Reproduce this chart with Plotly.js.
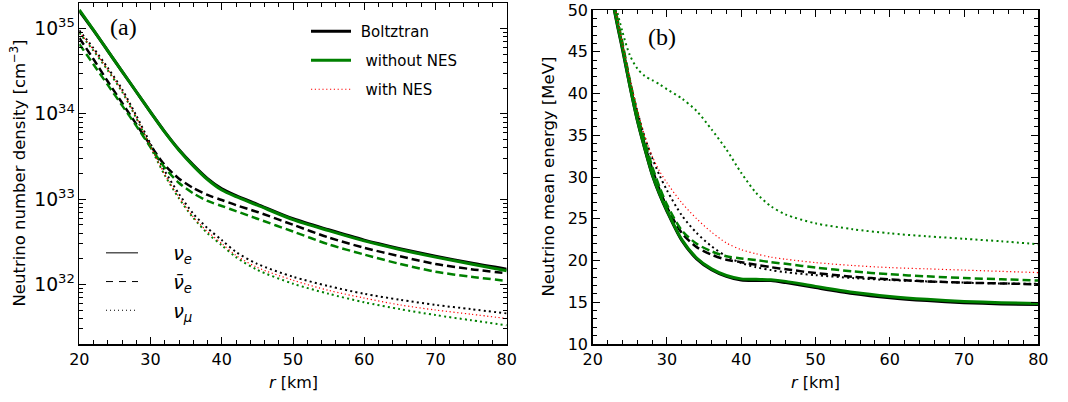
<!DOCTYPE html>
<html>
<head>
<meta charset="utf-8">
<script src="https://cdn.plot.ly/plotly-3.0.1.min.js"></script>
<style>html,body{margin:0;padding:0;background:#fff;}#chart{width:1068px;height:402px;}</style>
</head>
<body>
<div id="chart"></div>
<script>
// ---------- Data: panel (a) number density [cm^-3] vs r [km] ----------
const rA = [20,22,24,26,28,30,32,34,36,38,40,42,45,50,55,60,65,70,75,80];
const boltzNue  = [1.62e35,9.55e34,5.50e34,3.16e34,1.82e34,1.05e34,6.17e33,3.80e33,2.51e33,1.74e33,1.32e33,1.10e33,8.71e32,5.89e32,4.37e32,3.31e32,2.63e32,2.14e32,1.78e32,1.51e32];
const boltzNueb = [7.76e34,4.37e34,2.40e34,1.35e34,7.59e33,4.27e33,2.51e33,1.74e33,1.35e33,1.12e33,9.77e32,8.51e32,7.08e32,5.01e32,3.55e32,2.69e32,2.14e32,1.74e32,1.51e32,1.35e32];
const boltzNumu = [9.55e34,5.89e34,3.47e34,1.95e34,9.55e33,4.47e33,2.14e33,1.15e33,6.76e32,4.57e32,3.31e32,2.40e32,1.74e32,1.23e32,9.55e31,7.76e31,6.61e31,5.75e31,5.13e31,4.57e31];
const noNesNue  = [1.66e35,9.60e34,5.50e34,3.16e34,1.82e34,1.05e34,6.10e33,3.75e33,2.46e33,1.70e33,1.28e33,1.07e33,8.50e32,5.75e32,4.27e32,3.24e32,2.57e32,2.09e32,1.74e32,1.45e32];
const noNesNueb = [6.61e34,3.80e34,2.19e34,1.26e34,7.24e33,4.07e33,2.34e33,1.55e33,1.17e33,9.55e32,8.32e32,7.24e32,5.89e32,4.17e32,2.95e32,2.24e32,1.74e32,1.41e32,1.23e32,1.10e32];
const noNesNumu = [8.91e34,5.50e34,3.24e34,1.82e34,8.91e33,4.07e33,1.91e33,1.02e33,6.03e32,3.98e32,2.88e32,2.09e32,1.48e32,1.02e32,7.76e31,6.17e31,5.13e31,4.37e31,3.80e31,3.31e31];
const nesNumu   = [9.12e34,5.62e34,3.31e34,1.86e34,9.12e33,4.17e33,1.95e33,1.05e33,6.17e32,4.17e32,3.02e32,2.19e32,1.58e32,1.12e32,8.51e31,6.92e31,5.75e31,5.01e31,4.47e31,3.98e31];

// ---------- Data: panel (b) mean energy [MeV] vs r [km] ----------
const rB = [22,23,24,25,26,27,28,29,30,32,34,36,38,40,42,44,46,50,55,60,65,70,75,80];
const eBoltzNue  = [54.5,49.6,45.3,40.9,36.8,33.4,30.3,27.9,25.9,22.4,20.2,18.9,18.1,17.65,17.6,17.6,17.35,16.75,16.05,15.55,15.2,14.95,14.8,14.72];
const eBoltzNueb = [54.5,49.8,45.6,41.2,37.3,33.9,31.0,28.5,26.4,23.3,21.6,20.7,20.1,19.8,19.5,19.2,18.95,18.5,18.05,17.75,17.5,17.35,17.25,17.15];
const eBoltzNumu = [56.0,50.3,45.9,41.6,37.9,34.8,32.3,30.2,28.4,25.4,23.3,21.7,20.5,19.7,19.2,18.85,18.6,18.25,17.9,17.65,17.5,17.35,17.25,17.2];
const eNoNesNue  = [54.5,49.7,45.5,41.0,36.9,33.5,30.4,28.0,26.0,22.5,20.3,19.0,18.2,17.8,17.75,17.7,17.5,16.9,16.2,15.7,15.35,15.1,14.95,14.85];
const eNoNesNueb = [55.0,50.3,46.1,41.6,37.7,34.3,31.3,28.8,26.7,23.6,22.0,21.1,20.5,20.25,20.05,19.8,19.6,19.15,18.7,18.35,18.1,17.9,17.75,17.6];
const eNoNesNumu = [57.0,51.0,47.4,44.6,43.0,42.1,41.6,41.1,40.5,39.4,37.9,35.7,33.3,30.5,28.1,26.5,25.5,24.45,23.75,23.25,22.9,22.6,22.3,21.95];
const eNesNumu   = [56.0,50.4,46.0,41.8,38.1,34.9,32.5,30.7,29.3,26.9,25.0,23.4,22.1,21.3,20.8,20.4,20.15,19.75,19.4,19.15,19.0,18.85,18.7,18.55];

// ---------- Text ----------
const modelNames = ['Boltztran','without NES','with NES'];
const speciesNames = ['<i>ν</i><sub><i>e</i></sub>','<i>ν̄</i><sub><i>e</i></sub>','<i>ν</i><sub><i>μ</i></sub>'];

// ---------- Styles ----------
const BLACK = '#000000', GREEN = '#008000', RED = '#ff0000';
const W = 1068, H = 402;
const fx = p => p / W;
const fy = p => 1 - p / H;
const SOLID = 'solid', DASH = '8px,4px', DOT = '2px,3.2px', RDOT = '1.2px,2.6px';
const NB = n => '\u00a0'.repeat(n);

function tr(x, y, color, width, dash, xa, ya, extra) {
  return Object.assign({
    type: 'scatter', mode: 'lines', x: x, y: y, xaxis: xa, yaxis: ya,
    line: {color: color, width: width, dash: dash, shape: 'spline', smoothing: 0.8},
    showlegend: false, hoverinfo: 'skip', cliponaxis: true
  }, extra || {});
}

const traces = [
  // panel (a)
  tr(rA, boltzNue, BLACK, 3, SOLID, 'x', 'y', {name: NB(1) + modelNames[0], showlegend: true, legend: 'legend', legendgroup: 'g1'}),
  tr(rA, boltzNueb, BLACK, 2.5, DASH, 'x', 'y'),
  tr(rA, boltzNumu, BLACK, 2, DOT, 'x', 'y'),
  tr(rA, noNesNue, GREEN, 3, SOLID, 'x', 'y', {name: NB(2) + modelNames[1], showlegend: true, legend: 'legend', legendgroup: 'g2'}),
  tr(rA, noNesNueb, GREEN, 2.5, DASH, 'x', 'y'),
  tr(rA, noNesNumu, GREEN, 2, DOT, 'x', 'y'),
  tr(rA, nesNumu, RED, 1.2, RDOT, 'x', 'y', {name: NB(2) + modelNames[2], showlegend: true, legend: 'legend', legendgroup: 'g3'}),
  // panel (b)
  tr(rB, eBoltzNue, BLACK, 3, SOLID, 'x2', 'y2'),
  tr(rB, eBoltzNueb, BLACK, 2.5, DASH, 'x2', 'y2'),
  tr(rB, eBoltzNumu, BLACK, 2, DOT, 'x2', 'y2'),
  tr(rB, eNoNesNue, GREEN, 3, SOLID, 'x2', 'y2'),
  tr(rB, eNoNesNueb, GREEN, 2.5, DASH, 'x2', 'y2'),
  tr(rB, eNoNesNumu, GREEN, 2, DOT, 'x2', 'y2'),
  tr(rB, eNesNumu, RED, 1.2, RDOT, 'x2', 'y2'),
  // species legend (style keys only)
  {type: 'scatter', mode: 'lines', x: [null], y: [null], xaxis: 'x', yaxis: 'y', name: NB(5) + speciesNames[0], line: {color: BLACK, width: 1, dash: 'solid'}, legend: 'legend2', legendgroup: 's1', hoverinfo: 'skip'},
  {type: 'scatter', mode: 'lines', x: [null], y: [null], xaxis: 'x', yaxis: 'y', name: NB(5) + speciesNames[1], line: {color: BLACK, width: 1, dash: '7px,6px'}, legend: 'legend2', legendgroup: 's2', hoverinfo: 'skip'},
  {type: 'scatter', mode: 'lines', x: [null], y: [null], xaxis: 'x', yaxis: 'y', name: NB(5) + speciesNames[2], line: {color: BLACK, width: 1, dash: '1px,3px'}, legend: 'legend2', legendgroup: 's3', hoverinfo: 'skip'}
];

const FONT = 'DejaVu Sans, sans-serif';
const axisBase = {
  showgrid: false, zeroline: false, showline: true, linecolor: BLACK, linewidth: 1.5,
  mirror: 'ticks', ticks: 'inside', ticklen: 7, tickwidth: 1, tickcolor: BLACK,
  tickfont: {family: FONT, size: 16, color: BLACK}
};
const minorLin = d => ({ticks: 'inside', ticklen: 4, tickwidth: 1, tickcolor: BLACK, dtick: d, tick0: 0, showgrid: false});

const layout = {
  width: W, height: H,
  margin: {l: 0, r: 0, t: 0, b: 0, pad: 0},
  paper_bgcolor: '#ffffff', plot_bgcolor: '#ffffff',
  font: {family: FONT, size: 15, color: BLACK},
  showlegend: true,
  xaxis: Object.assign({}, axisBase, {
    domain: [fx(79.3), fx(506.7)], anchor: 'y', range: [20, 80], dtick: 10, tick0: 0, minor: minorLin(2)
  }),
  yaxis: Object.assign({}, axisBase, {
    domain: [fy(344), fy(3)], anchor: 'x', type: 'log',
    range: [Math.log10(2e31), Math.log10(2e35)], dtick: 1, tick0: 0, exponentformat: 'power',
    tickfont: {family: FONT, size: 15, color: BLACK},
    minor: {ticks: 'inside', ticklen: 4, tickwidth: 1, tickcolor: BLACK, dtick: 'D1', showgrid: false}
  }),
  xaxis2: Object.assign({}, axisBase, {
    domain: [fx(592.7), fx(1038.3)], anchor: 'y2', range: [20, 80], dtick: 10, tick0: 0, minor: minorLin(2)
  }),
  yaxis2: Object.assign({}, axisBase, {
    domain: [fy(344), fy(10)], anchor: 'x2', range: [10, 50], dtick: 5, tick0: 0, minor: minorLin(1)
  }),
  legend: {
    x: fx(306), y: fy(15), xanchor: 'left', yanchor: 'top',
    bgcolor: 'rgba(0,0,0,0)', borderwidth: 0, font: {family: FONT, size: 15, color: BLACK},
    traceorder: 'grouped', tracegroupgap: 6.5, itemwidth: 40, itemclick: false, itemdoubleclick: false
  },
  legend2: {
    x: fx(101), y: fy(234), xanchor: 'left', yanchor: 'top',
    bgcolor: 'rgba(0,0,0,0)', borderwidth: 0, font: {family: FONT, size: 19, color: BLACK},
    traceorder: 'grouped', tracegroupgap: 1, itemwidth: 32, itemclick: false, itemdoubleclick: false
  },
  annotations: [
    {text: 'Neutrino number density [cm<sup>−3</sup>]', xref: 'paper', yref: 'paper', x: fx(18), y: fy(173.5),
     textangle: -90, showarrow: false, font: {family: FONT, size: 16.5}, xanchor: 'center', yanchor: 'middle'},
    {text: '<i>r</i> [km]', xref: 'paper', yref: 'paper', x: fx(293), y: fy(382), showarrow: false,
     font: {family: FONT, size: 16}, xanchor: 'center', yanchor: 'middle'},
    {text: 'Neutrino mean energy [MeV]', xref: 'paper', yref: 'paper', x: fx(548), y: fy(176.5),
     textangle: -90, showarrow: false, font: {family: FONT, size: 16.5}, xanchor: 'center', yanchor: 'middle'},
    {text: '<i>r</i> [km]', xref: 'paper', yref: 'paper', x: fx(815), y: fy(382), showarrow: false,
     font: {family: FONT, size: 16}, xanchor: 'center', yanchor: 'middle'},
    {text: '(a)', xref: 'paper', yref: 'paper', x: fx(123), y: fy(27), showarrow: false,
     font: {family: 'Liberation Serif, serif', size: 24}, xanchor: 'center', yanchor: 'middle'},
    {text: '(b)', xref: 'paper', yref: 'paper', x: fx(662), y: fy(37), showarrow: false,
     font: {family: 'Liberation Serif, serif', size: 24}, xanchor: 'center', yanchor: 'middle'}
  ]
};

Plotly.newPlot('chart', traces, layout, {staticPlot: true, displayModeBar: false});
</script>
</body>
</html>
